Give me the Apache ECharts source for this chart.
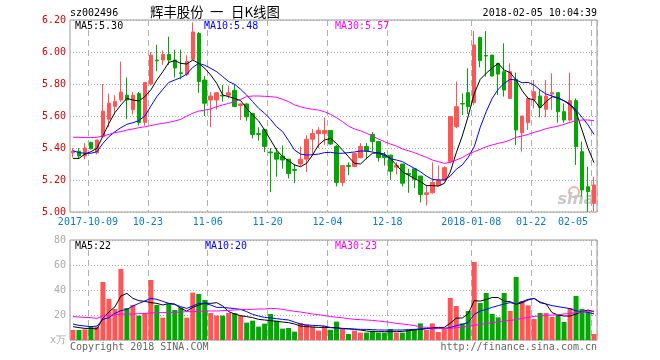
<!DOCTYPE html>
<html><head><meta charset="utf-8">
<script src="https://cdn.jsdelivr.net/npm/echarts@6/dist/echarts.min.js"></script>
<style>html,body{margin:0;padding:0;background:#fff}#c{width:660px;height:360px}</style>
</head><body><div id="c"></div>
<script>
const dates = ['2017-09-27','2017-09-28','2017-09-29',
'2017-10-09','2017-10-10','2017-10-11','2017-10-12','2017-10-13','2017-10-16','2017-10-17','2017-10-18','2017-10-19','2017-10-20',
'2017-10-23','2017-10-24','2017-10-25','2017-10-26','2017-10-27','2017-10-30','2017-10-31',
'2017-11-01','2017-11-02','2017-11-03','2017-11-06','2017-11-07','2017-11-08','2017-11-09','2017-11-10',
'2017-11-13','2017-11-14','2017-11-15','2017-11-16','2017-11-17','2017-11-20','2017-11-21','2017-11-22','2017-11-23','2017-11-24',
'2017-11-27','2017-11-28','2017-11-29','2017-11-30','2017-12-01',
'2017-12-04','2017-12-05','2017-12-06','2017-12-07','2017-12-08','2017-12-11','2017-12-12','2017-12-13','2017-12-14','2017-12-15',
'2017-12-18','2017-12-19','2017-12-20','2017-12-21','2017-12-22','2017-12-25','2017-12-26','2017-12-27','2017-12-28','2017-12-29',
'2018-01-02','2018-01-03','2018-01-04','2018-01-05','2018-01-08','2018-01-09','2018-01-10','2018-01-11','2018-01-12',
'2018-01-15','2018-01-16','2018-01-17','2018-01-18','2018-01-19','2018-01-22','2018-01-23','2018-01-24','2018-01-25','2018-01-26',
'2018-01-29','2018-01-30','2018-01-31','2018-02-01','2018-02-02','2018-02-05'];

const openP = [5.37,5.38,5.35,5.435,5.37,5.47,5.58,5.66,5.70,5.73, 5.64,5.74,5.56,5.80,5.95,5.95,5.985,5.95,5.87,5.86,
 5.955,6.115,5.825,5.70,5.70,5.73,5.73,5.76,5.665,5.675, 5.615,5.49,5.515,5.375,5.37,5.35,5.33,5.265,5.30,5.33,
 5.455,5.49,5.49,5.51,5.41,5.185,5.29,5.285,5.34,5.41, 5.485,5.44,5.355,5.355,5.28,5.30,5.24,5.27,5.225,5.11,
 5.12,5.165,5.20,5.315,5.533,5.678,5.746,5.683,6.09,5.978, 5.981,5.929,5.877,5.71,5.829,5.496,5.558,5.70,5.725,5.642,
 5.737,5.746,5.627,5.575,5.696,5.377,5.158,5.054];
const closeP = [5.38,5.35,5.40,5.395,5.45,5.63,5.68,5.69,5.75,5.70, 5.73,5.56,5.81,5.98,5.945,5.985,5.95,5.90,5.865,5.94,
 6.125,5.815,5.68,5.725,5.745,5.725,5.745,5.66,5.675,5.595, 5.485,5.485,5.41,5.37,5.33,5.325,5.24,5.26,5.33,5.455,
 5.49,5.51,5.51,5.425,5.185,5.29,5.285,5.365,5.41,5.38, 5.44,5.34,5.34,5.255,5.29,5.18,5.235,5.205,5.11,5.12,
 5.185,5.20,5.277,5.596,5.658,5.675,5.658,6.044,5.946,5.975, 5.85,5.862,5.762,5.877,5.5125,5.60,5.71,5.752,5.654,5.725,
 5.746,5.627,5.575,5.696,5.408,5.1375,5.127,5.169];
const lowP = [5.34,5.33,5.33,5.39,5.36,5.47,5.53,5.61,5.69,5.58, 5.61,5.54,5.54,5.79,5.88,5.92,5.92,5.84,5.83,5.85,
 5.95,5.745,5.60,5.53,5.64,5.69,5.71,5.655,5.575,5.57, 5.46,5.445,5.375,5.125,5.22,5.27,5.21,5.18,5.285,5.25,
 5.355,5.40,5.42,5.42,5.16,5.16,5.23,5.28,5.335,5.33, 5.38,5.315,5.29,5.20,5.235,5.16,5.12,5.15,5.06,5.04,
 5.115,5.16,5.195,5.304,5.523,5.606,5.612,5.669,5.904,5.846, 5.846,5.731,5.721,5.71,5.419,5.377,5.5125,5.648,5.592,5.592,
 5.638,5.558,5.558,5.565,5.294,5.096,5.00,5.005];
const highP = [5.40,5.40,5.43,5.44,5.45,5.80,5.74,5.73,5.94,5.84, 5.75,5.75,5.81,6.00,6.045,6.01,6.096,6.015,6.015,5.98,
 6.185,6.125,5.85,5.75,5.75,5.795,5.79,5.80,5.68,5.68, 5.62,5.53,5.52,5.40,5.40,5.415,5.33,5.30,5.41,5.48,
 5.52,5.53,5.59,5.51,5.42,5.29,5.31,5.37,5.43,5.43, 5.50,5.445,5.375,5.36,5.31,5.30,5.27,5.27,5.225,5.17,
 5.31,5.29,5.285,5.60,5.815,5.742,5.898,6.131,6.096,6.131, 5.981,5.929,6.054,5.929,5.871,5.60,5.721,5.825,5.762,5.825,
 5.867,5.746,5.679,5.871,5.71,5.44,5.283,5.221];
const volume = [8,8,8.5,10.7,10.7,46.4,32.8,24.8,56.8,25.6, 28,19.5,21.6,48,28,17.9,28.8,24,26.1,17.9,
 37.9,36.8,32,21.6,19.5,19.5,21.6,21.6,19.5,13.9, 15.5,10.7,13.1,20.8,15.5,9.1,9.6,6.7,13.6,12.5,
 10.7,7.5,11.2,8.2,14.7,9.3,4.8,7.5,5.9,5.9, 7.5,5.9,5.9,8.8,5.9,5.9,8,8.5,13.3,8,
 13.3,6.4,8.8,33.6,27.2,13.3,23.2,62.4,29.6,37.6, 20.8,18.1,37.6,23.2,50.4,31.2,27.7,16.8,21.6,21.6,
 18.4,20,14.4,25.6,35.2,24.8,22.1,4.8];

const ma5 = [5.335,5.335,5.362,5.377,5.398,5.475,5.554,5.621,5.669,5.71, 5.70,5.694,5.721,5.763,5.825,5.877,5.935,5.946,5.929,5.925,
 5.95,5.929,5.898,5.856,5.804,5.731,5.721,5.71,5.696,5.648, 5.606,5.569,5.5125,5.45,5.387,5.346,5.32,5.294,5.283,5.304,
 5.356,5.419,5.45,5.46,5.429,5.387,5.346,5.304,5.30,5.335, 5.367,5.371,5.362,5.335,5.294,5.252,5.231,5.21,5.19,5.165,
 5.165,5.162,5.179,5.25,5.37,5.475,5.60,5.74,5.829,5.867, 5.9,5.929,5.887,5.871,5.825,5.758,5.71,5.70,5.65,5.69,
 5.72,5.715,5.694,5.669,5.627,5.5125,5.398,5.308];
const ma10 = [5.383,5.371,5.367,5.367,5.377,5.429,5.471,5.502,5.527,5.548, 5.558,5.571,5.60,5.662,5.721,5.767,5.81,5.825,5.84,5.862,
 5.904,5.929,5.917,5.898,5.877,5.846,5.815,5.798,5.767,5.731, 5.69,5.648,5.617,5.579,5.533,5.502,5.446,5.387,5.362,5.356,
 5.358,5.362,5.371,5.373,5.367,5.367,5.371,5.375,5.381,5.381, 5.375,5.367,5.354,5.333,5.325,5.315,5.294,5.273,5.252,5.225,
 5.204,5.2,5.2,5.225,5.267,5.294,5.342,5.408,5.529,5.627, 5.71,5.767,5.804,5.829,5.825,5.808,5.81,5.794,5.762,5.737,
 5.725,5.71,5.696,5.675,5.637,5.592,5.544,5.485];
const ma30 = [5.467,5.467,5.465,5.465,5.467,5.475,5.485,5.496,5.502,5.5125, 5.519,5.527,5.533,5.54,5.548,5.554,5.56,5.569,5.579,5.60,
 5.617,5.631,5.637,5.644,5.658,5.669,5.679,5.69,5.704,5.721, 5.725,5.725,5.723,5.721,5.717,5.704,5.69,5.669,5.658,5.648,
 5.642,5.637,5.627,5.61,5.59,5.565,5.537,5.519,5.508,5.492, 5.475,5.456,5.44,5.425,5.412,5.394,5.383,5.371,5.356,5.342,
 5.325,5.315,5.304,5.31,5.325,5.34,5.362,5.377,5.392,5.408, 5.419,5.429,5.437,5.45,5.467,5.475,5.485,5.498,5.508,5.521,
 5.529,5.537,5.548,5.56,5.571,5.575,5.575,5.571];
const volMa5 = [10.7,9.9,9.3,9.3,8.8,17.5,22.5,26.5,35.2,37.3, 33.3,31.5,30.9,29.9,29.3,28,29.3,28.8,25.3,23.2,
 26.1,28,29.5,29.3,29.9,27.2,22.7,20.8,19.5,18.7, 17.9,16.5,16,15.5,14.9,14.4,13.9,12.8,11.2,10.7,
 10.4,10.1,10.1,9.9,9.9,9.3,9.1,8.5,8,7.2, 6.7,6.7,6.7,6.7,6.7,6.9,7.5,8,8.5,9.1,
 9.9,10.1,10.1,13.5,17.5,17.6,21,31.5,31.1,32.5, 34,34,31,30.7,28.5,29.9,32,33.3,29.9,28.8,
 21.9,20,19.2,19.2,20.8,22.7,24,22.5];
const volMa10 = [12.8,11.7,11.2,10.7,11.2,16.5,17.9,21.3,23.5,24.5, 27.2,29.3,31.2,33.3,32.5,30.9,29.3,28.3,26.7,25.3,
 27.2,29.3,29.3,28,26.1,26.1,25.6,25.1,24.5,22.7, 20.5,19.2,18.1,17.6,17.1,16.5,16,14.4,12.8,12,
 11.7,11.5,11.2,10,9.5,9.1,8.8,8.8,8.5,8.5, 8.3,8,8,8,8,8,8.3,8.5,8.8,9.1,
 9.1,9.3,9.3,10,11.5,12.5,14,20.5,23.2,24.5, 26.1,27.5,28.8,29.9,28.8,30.7,32.5,33.3,30.4,28.8,
 27.5,26.7,25.9,25.1,23.3,22.8,22.1,20.9];
const volMa30 = [18.7,18.4,18.1,17.9,17.3,19.2,19.7,20.3,20.8,20.8, 20.8,21.1,21.3,21.6,21.9,21.9,22.1,22.1,22.4,22.7,
 22.7,22.9,23.2,23.2,23.2,23.5,23.7,24,24.3,24.5, 24.5,24.8,24.8,25.3,25.1,24.5,23.7,22.9,22.4,21.6,
 20.8,20.3,19.5,18.8,18.2,17.8,17.1,16.5,16.3,16, 15.7,15.2,14.7,14.1,13.3,12.8,12.3,11.5,10.7,10.1,
 9.6,9.3,9.3,9.3,9.9,10.4,10.9,11.7,12.5,13.3, 13.9,14.4,15.2,15.7,16.3,17.3,18.1,18.9,19.2,19.7,
 20,20.3,20.8,21.3,21.9,22.4,22.9,23.2];

const tickIndex = [3,13,23,33,43,53,67,77,87];
const tickLabels = ['2017-10-09','10-23','11-06','11-20','12-04','12-18','2018-01-08','01-22','02-05'];
const priceLegend = ['MA5:5.30','MA10:5.48','MA30:5.57'];
const volLegend = ['MA5:22','MA10:20','MA30:23'];
const titleCode = 'sz002496';
const titleParts = ['辉丰股份', '一', '日K线图'];
const timeStamp = '2018-02-05 10:04:39';

const UP = '#ff5555', DOWN = '#00a800';
const MONO = '"DejaVu Sans Mono", "Liberation Mono", monospace';
const CJK = '"Noto Sans CJK SC", sans-serif';
const isTick = (i) => tickIndex.indexOf(i) >= 0;

const chart = echarts.init(document.getElementById('c'), null, {renderer: 'canvas'});
const xCommon = {
  type: 'category', data: dates, boundaryGap: true,
  axisLine: {show: false}, axisTick: {show: false},
  splitLine: {show: true, interval: (i) => isTick(i), lineStyle: {color: '#b0b0b0', type: [6, 4], width: 1}}
};
const lineS = (name, data, color, xi, yi) => ({
  type: 'line', name, data, xAxisIndex: xi, yAxisIndex: yi, symbol: 'none', showSymbol: false,
  lineStyle: {color, width: 1}, itemStyle: {color}, silent: true, z: 5
});
const gText = (text, x, y, fill, opts) => ({
  type: 'text', x, y, z: 10,
  style: Object.assign({text, fill, font: '10px ' + MONO, align: 'left', verticalAlign: 'middle'}, opts || {})
});

chart.setOption({
  animation: false,
  backgroundColor: '#fff',
  grid: [
    {left: 70, top: 20, width: 527, height: 192, show: true, borderColor: '#999', borderWidth: 1, backgroundColor: 'transparent', outerBoundsMode: 'none'},
    {left: 70, top: 240, width: 527, height: 100, show: true, borderColor: '#999', borderWidth: 1, backgroundColor: 'transparent', outerBoundsMode: 'none'}
  ],
  xAxis: [
    Object.assign({}, xCommon, {gridIndex: 0,
      axisLabel: {show: true, interval: (i) => isTick(i), margin: 5, color: '#0a7ad0', fontFamily: MONO, fontSize: 10,
        padding: [0, 6, 0, 0], alignMaxLabel: 'right',
        formatter: (v, i) => { const k = tickIndex.indexOf(i); return k >= 0 ? tickLabels[k] : ''; }}}),
    Object.assign({}, xCommon, {gridIndex: 1, axisLabel: {show: false}})
  ],
  yAxis: [
    {type: 'value', gridIndex: 0, min: 5.0, max: 6.2, interval: 0.2, scale: true,
      axisLine: {show: false}, axisTick: {show: false},
      axisLabel: {color: '#e00000', fontFamily: MONO, fontSize: 10, margin: 4, formatter: (v) => v.toFixed(2)},
      splitLine: {show: true, lineStyle: {color: '#aaa', type: [1, 2], width: 1}}},
    {type: 'value', gridIndex: 1, min: 0, max: 80, interval: 20,
      axisLine: {show: false}, axisTick: {show: false},
      axisLabel: {color: '#aaa', fontFamily: MONO, fontSize: 10, margin: 4,
        formatter: (v) => v === 0 ? 'x万' : String(v)},
      splitLine: {show: true, lineStyle: {color: '#aaa', type: [1, 2], width: 1}}}
  ],
  series: [
    {type: 'candlestick', xAxisIndex: 0, yAxisIndex: 0, barWidth: 4,
      data: dates.map((d, i) => [openP[i], closeP[i], lowP[i], highP[i]]),
      itemStyle: {color: UP, color0: DOWN, borderColor: UP, borderColor0: DOWN, borderWidth: 1},
      z: 3},
    lineS('MA5', ma5, '#000000', 0, 0),
    lineS('MA10', ma10, '#0000ff', 0, 0),
    lineS('MA30', ma30, '#ff00ff', 0, 0),
    {type: 'bar', xAxisIndex: 1, yAxisIndex: 1, barWidth: 5,
      data: volume.map((v, i) => ({value: v, itemStyle: {color: closeP[i] >= openP[i] ? UP : DOWN}})), z: 3},
    lineS('VMA5', volMa5, '#000000', 1, 1),
    lineS('VMA10', volMa10, '#0000ff', 1, 1),
    lineS('VMA30', volMa30, '#ff00ff', 1, 1)
  ],
  graphic: [
    {type: 'group', z: 0, children: [
      {type: 'circle', shape: {cx: 574, cy: 192, r: 5}, z: 0, style: {fill: 'none', stroke: '#f3b0b0', lineWidth: 2}},
      {type: 'text', x: 576, y: 200, z: 0, style: {text: 'sina', fill: '#c8c8c8', font: 'italic bold 16px "DejaVu Sans", sans-serif', align: 'center', verticalAlign: 'middle'}}
    ]},
    gText(titleCode, 70, 13, '#000'),
    gText(titleParts[0], 150, 12, '#000', {font: '13.4px ' + CJK}),
    gText(titleParts[1], 210, 12, '#000', {font: '13.4px ' + CJK}),
    gText(titleParts[2], 231, 12, '#000', {font: '13.4px ' + CJK}),
    gText(timeStamp, 597, 13, '#000', {align: 'right'}),
    gText(priceLegend[0], 75, 26, '#000'),
    gText(priceLegend[1], 204, 26, '#0000ff'),
    gText(priceLegend[2], 335, 26, '#ff00ff'),
    gText(volLegend[0], 75, 246, '#000'),
    gText(volLegend[1], 205, 246, '#0000ff'),
    gText(volLegend[2], 335, 246, '#ff00ff'),
    gText('Copyright 2018 SINA.COM', 70, 347, '#666'),
    gText('http://finance.sina.com.cn', 597, 347, '#666', {align: 'right'})
  ]
});
</script></body></html>
